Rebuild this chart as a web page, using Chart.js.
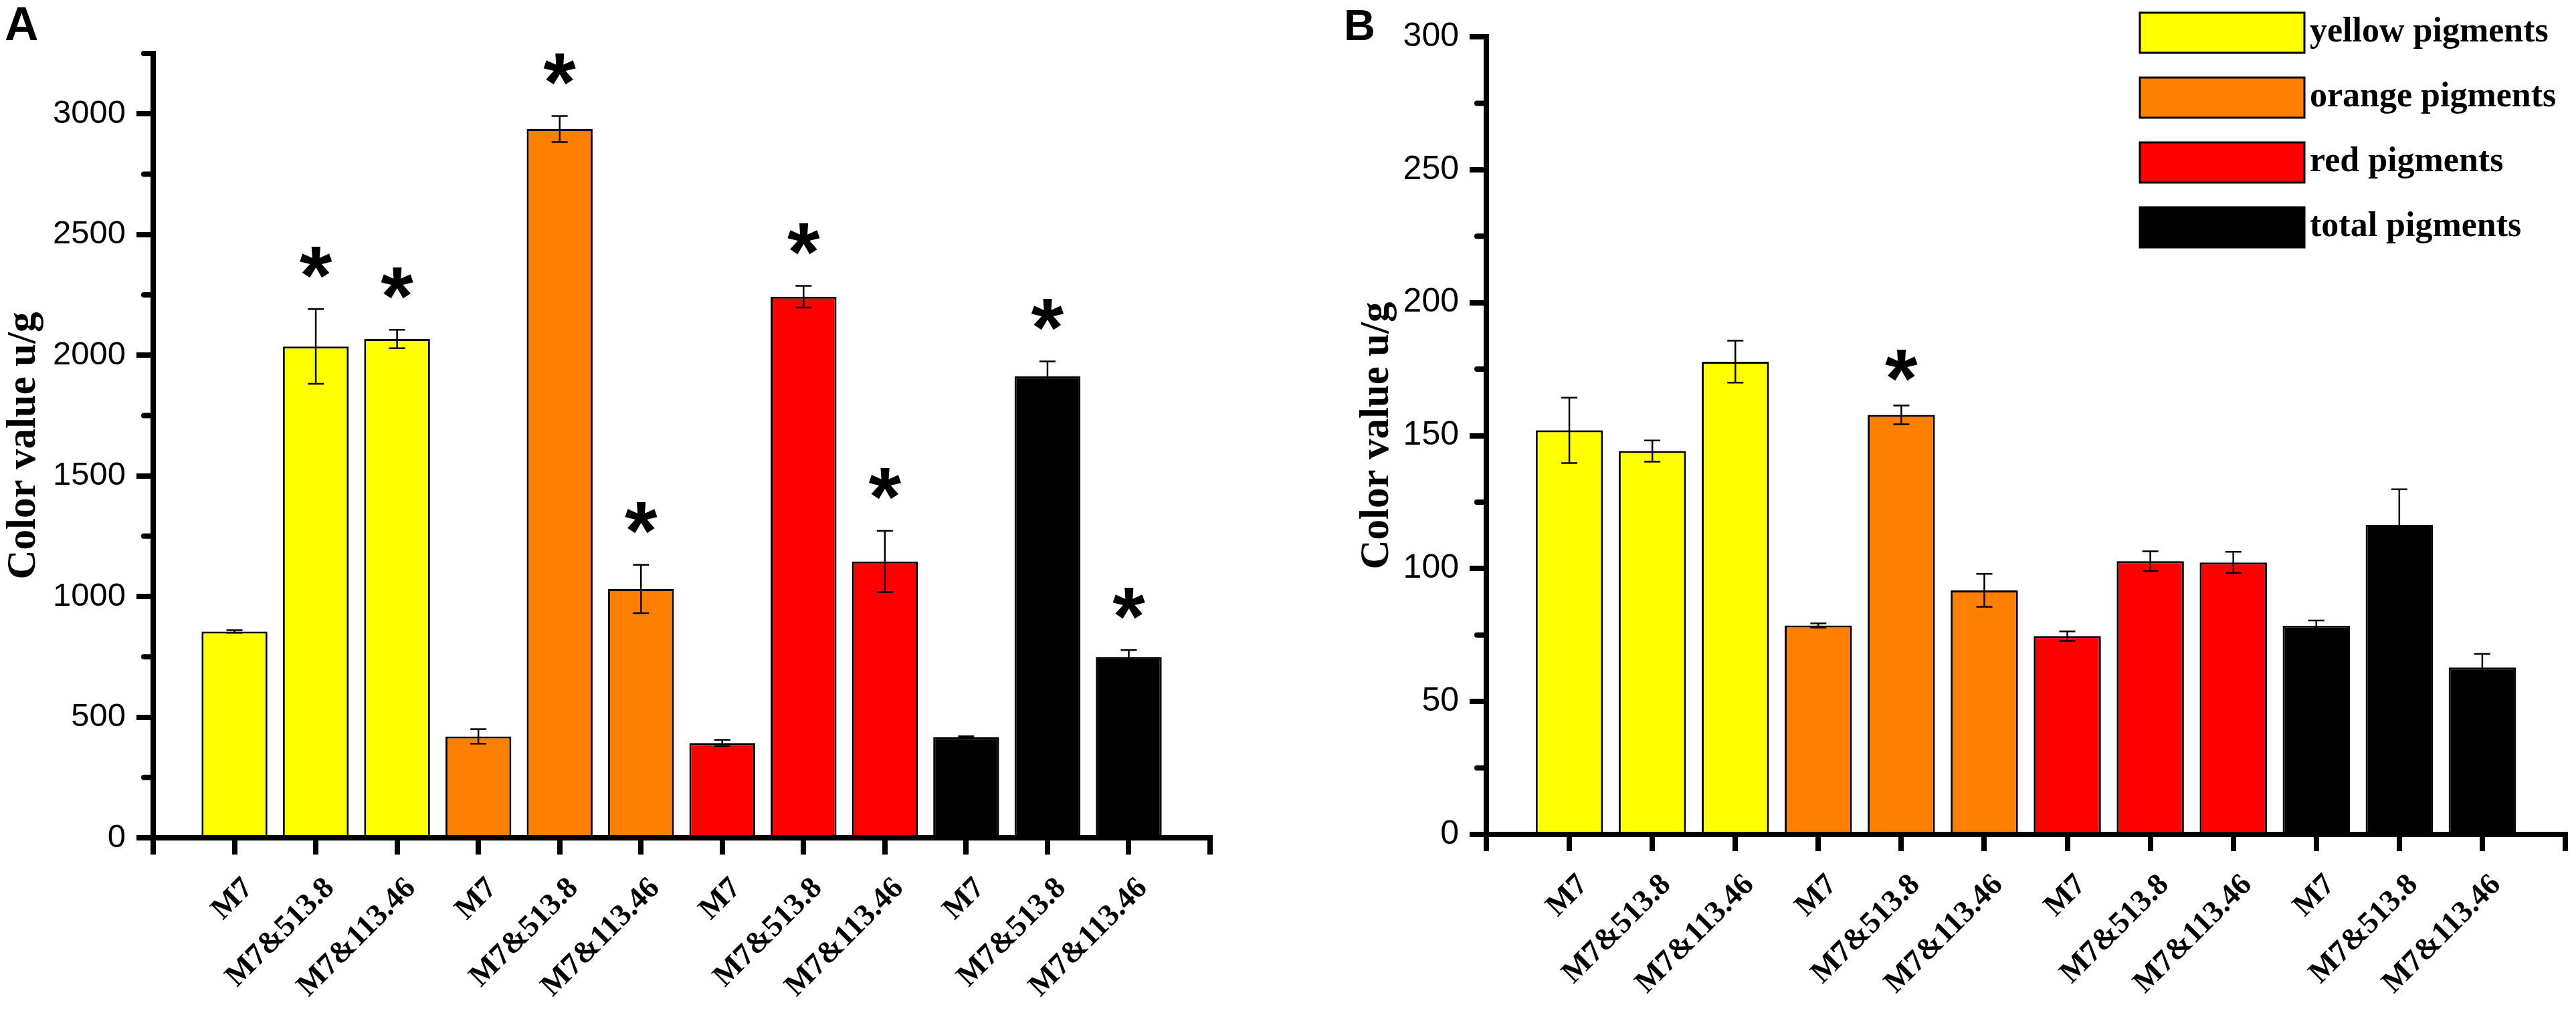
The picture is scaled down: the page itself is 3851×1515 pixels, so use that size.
<!DOCTYPE html>
<html>
<head>
<meta charset="utf-8">
<title>Color value of pigments</title>
<script src="https://cdn.jsdelivr.net/npm/chart.js@4.4.1/dist/chart.umd.min.js"></script>
<style>
  html, body { margin: 0; padding: 0; background: #fff; }
  body { width: 3851px; height: 1515px; position: relative; overflow: hidden; }
  .panel { position: absolute; top: 0; height: 1515px; }
  #panelA { left: 0; width: 1925px; }
  #panelB { left: 1925px; width: 1926px; }
</style>
</head>
<body>
<div class="panel" id="panelA"><canvas id="chartA"></canvas></div>
<div class="panel" id="panelB"><canvas id="chartB"></canvas></div>
<script>
// strains along the x axis (same order in both panels)
const strains = ['M7', 'M7&513.8', 'M7&113.46', 'M7', 'M7&513.8', 'M7&113.46',
                 'M7', 'M7&513.8', 'M7&113.46', 'M7', 'M7&513.8', 'M7&113.46'];
const pigmentNames = ['yellow pigments', 'orange pigments', 'red pigments', 'total pigments'];
const pigmentColors = ['#FFFF00', '#FF8000', '#FF0000', '#000000'];
const pigmentOfBar = [0, 0, 0, 1, 1, 1, 2, 2, 2, 3, 3, 3];

// panel A
const valuesA = [855, 2036, 2067, 420, 2937, 1031, 393, 2242, 1145, 418, 1913, 749];
const errorsA = [5, 155, 38, 30, 54, 100, 13, 45, 127, 3, 61, 29];
const starsA = [0, 1, 1, 0, 1, 1, 0, 1, 1, 0, 1, 1];
const yTicksA = [0, 500, 1000, 1500, 2000, 2500, 3000];
const yMaxA = 3250;

// panel B
const valuesB = [152.0, 144.2, 177.8, 78.6, 157.8, 91.8, 74.6, 102.8, 102.3, 78.5, 116.4, 62.8];
const errorsB = [12.3, 4.0, 7.9, 0.8, 3.5, 6.2, 1.8, 3.7, 4.0, 2.0, 13.4, 5.1];
const starsB = [0, 0, 0, 0, 1, 0, 0, 0, 0, 0, 0, 0];
const yTicksB = [0, 50, 100, 150, 200, 250, 300];
const yMaxB = 300;

const barColors = pigmentOfBar.map(p => pigmentColors[p]);

// error bars, stars, minor ticks, panel letter and legend
const extras = {
  id: 'extras',
  afterDatasetsDraw(chart, args, o) {
    const ctx = chart.ctx;
    const bars = chart.getDatasetMeta(0).data;
    const y = chart.scales.y;
    ctx.save();
    ctx.strokeStyle = '#000';
    ctx.lineWidth = 2.5;
    o.errors.forEach((e, i) => {
      const x = bars[i + 1].x;
      const top = y.getPixelForValue(o.values[i] + e);
      const bot = y.getPixelForValue(o.values[i] - e);
      ctx.beginPath();
      ctx.moveTo(x, top); ctx.lineTo(x, bot);
      ctx.moveTo(x - 12, top); ctx.lineTo(x + 12, top);
      ctx.moveTo(x - 12, bot); ctx.lineTo(x + 12, bot);
      ctx.stroke();
    });
    ctx.fillStyle = '#000';
    ctx.font = 'bold 125px "Liberation Sans"';
    ctx.textAlign = 'center';
    ctx.textBaseline = 'alphabetic';
    const m = ctx.measureText('*');
    const mid = (m.actualBoundingBoxAscent - m.actualBoundingBoxDescent) / 2;
    o.stars.forEach((s, i) => {
      if (!s) return;
      const top = y.getPixelForValue(o.values[i] + o.errors[i]);
      ctx.fillText('*', bars[i + 1].x, top - o.starGap + mid);
    });
    ctx.restore();
  },
  afterDraw(chart, args, o) {
    const ctx = chart.ctx;
    const area = chart.chartArea;
    const y = chart.scales.y;
    ctx.save();
    // minor ticks on the y axis
    ctx.strokeStyle = '#000';
    ctx.lineWidth = 8;
    ctx.lineCap = 'round';
    y.ticks.forEach(t => {
      if (o.majors.includes(t.value)) return;
      const py = y.getPixelForValue(t.value);
      ctx.beginPath();
      ctx.moveTo(area.left - 14, py);
      ctx.lineTo(area.left, py);
      ctx.stroke();
    });
    // panel letter
    ctx.fillStyle = '#000';
    ctx.font = 'bold ' + o.letterSize + 'px "Liberation Sans"';
    ctx.textAlign = 'left';
    ctx.textBaseline = 'alphabetic';
    ctx.fillText(o.letter, o.letterX, o.letterY);
    // legend
    if (o.legend) {
      const lx = area.right - 636;
      ctx.font = 'bold 52px "Liberation Serif"';
      pigmentNames.forEach((name, i) => {
        const ty = 19 + i * 97;
        ctx.fillStyle = pigmentColors[i];
        ctx.fillRect(lx, ty, 246, 60);
        ctx.lineWidth = 3;
        ctx.strokeStyle = '#000';
        ctx.strokeRect(lx, ty, 246, 60);
        ctx.fillStyle = '#000';
        ctx.fillText(name, lx + 254, ty + 30 + 13);
      });
    }
    ctx.restore();
  }
};

function makePanel(id, p) {
  const majorOf = c => c.tick && p.majors.includes(c.tick.value);
  return new Chart(document.getElementById(id), {
    type: 'bar',
    data: {
      labels: ['', ...strains, ''],
      datasets: [{
        data: [null, ...p.values, null],
        backgroundColor: ['#fff', ...barColors, '#fff'],
        borderColor: '#000',
        borderWidth: 3,
        categoryPercentage: 0.9,
        barPercentage: 0.9
      }]
    },
    options: {
      responsive: true,
      maintainAspectRatio: false,
      devicePixelRatio: 1,
      animation: false,
      events: [],
      layout: { padding: p.padding },
      plugins: {
        legend: { display: false },
        tooltip: { enabled: false },
        extras: {
          values: p.values, errors: p.errors, stars: p.stars, starGap: p.starGap,
          majors: p.majors, letter: p.letter, letterSize: p.letterSize,
          letterX: p.letterX, letterY: p.letterY, legend: p.legend
        }
      },
      scales: {
        x: {
          type: 'category',
          offset: false,
          afterFit(s) { s.height = p.xHeight; s.paddingLeft = 0; s.paddingRight = 0; },
          grid: {
            drawOnChartArea: false, offset: false, tickLength: 25,
            lineWidth: 8, tickWidth: 8, tickColor: '#000', color: '#000'
          },
          border: { display: true, width: 8, color: '#000', z: 1 },
          ticks: {
            autoSkip: false, minRotation: 45, maxRotation: 45,
            padding: 24, labelOffset: 21, color: '#000',
            font: { family: 'Liberation Serif', weight: 'bold', size: 46 }
          }
        },
        y: {
          min: 0,
          max: p.yMax,
          afterFit(s) { s.width = p.yWidth; },
          grid: {
            drawOnChartArea: false, tickLength: 25, lineWidth: 8, tickWidth: 8,
            tickColor: c => majorOf(c) ? '#000' : 'rgba(0,0,0,0)'
          },
          border: { display: true, width: 8, color: '#000', z: 1 },
          ticks: {
            stepSize: p.majors[1] / 2,
            padding: 16,
            color: '#000',
            font: { family: 'Liberation Sans', size: p.tickSize },
            callback: v => p.majors.includes(v) ? String(v) : ''
          },
          title: {
            display: true,
            text: 'Color value u/g',
            color: '#000',
            font: { family: 'Liberation Serif', weight: 'bold', size: 61 },
            padding: { top: p.titlePad, bottom: 0 }
          }
        }
      }
    },
    plugins: [extras]
  });
}

makePanel('chartA', {
  values: valuesA, errors: errorsA, stars: starsA, majors: yTicksA, yMax: yMaxA,
  padding: { top: 80, right: 116, left: 0, bottom: 0 },
  xHeight: 262, yWidth: 229, titlePad: 0, tickSize: 49, starGap: 70,
  letter: 'A', letterSize: 70, letterX: 7, letterY: 60, legend: false
});

makePanel('chartB', {
  values: valuesB, errors: errorsB, stars: starsB, majors: yTicksB, yMax: yMaxB,
  padding: { top: 55, right: 16, left: 0, bottom: 0 },
  xHeight: 267, yWidth: 297, titlePad: 98, tickSize: 50, starGap: 60,
  letter: 'B', letterSize: 65, letterX: 84, letterY: 60, legend: true
});
</script>
</body>
</html>
